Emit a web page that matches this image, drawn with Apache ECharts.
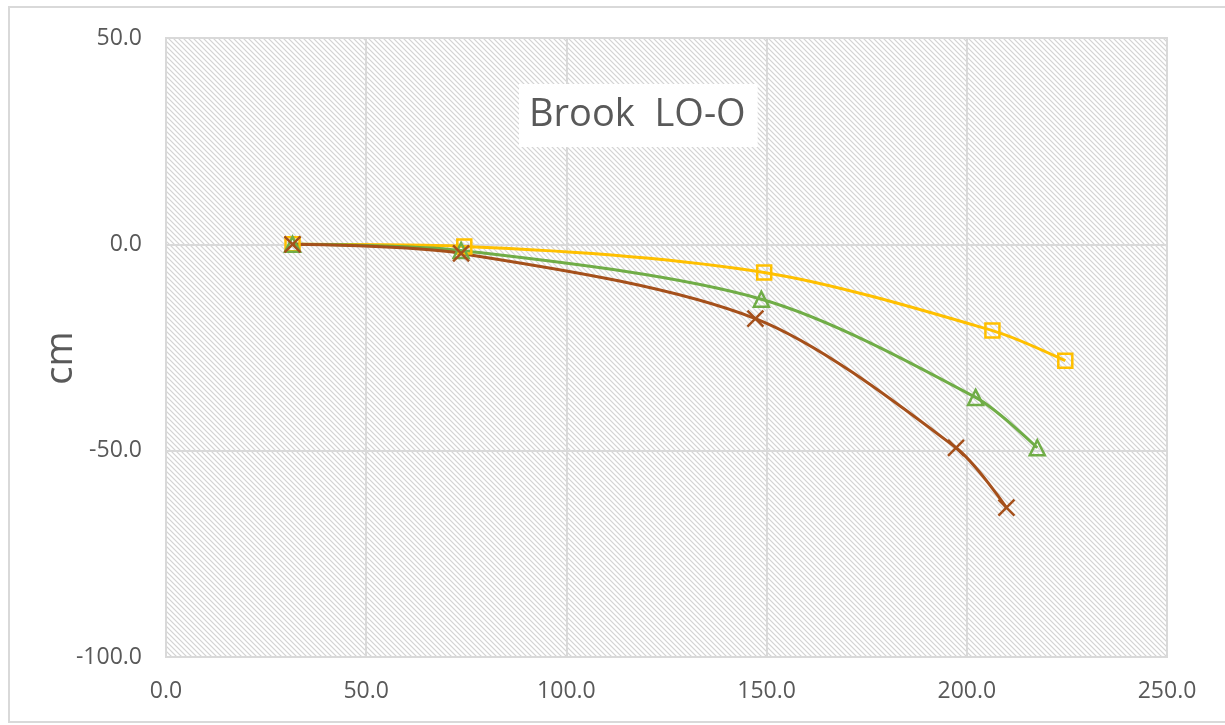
<!DOCTYPE html>
<html>
<head>
<meta charset="utf-8">
<script src="https://cdn.jsdelivr.net/npm/echarts@6/dist/echarts.min.js"></script>
<style>
html,body{margin:0;padding:0;background:#fff;}
#chart{width:1225px;height:725px;}
</style>
</head>
<body>
<div id="chart"></div>
<script>
// Data (x, cm)
const yellowX = [31.6, 74.5, 149.4, 206.4, 224.6];
const yellowY = [0, -0.5, -6.8, -20.9, -28.2];
const greenX = [31.6, 73.7, 148.7, 202.2, 217.6];
const greenY = [0, -1.5, -13.3, -37.1, -49.3];
const brownX = [31.6, 73.7, 147.2, 197.3, 209.9];
const brownY = [0, -2.2, -18.0, -49.3, -63.8];
const titleText = 'Brook  LO-O';
const yAxisName = 'cm';

function pairs(xs, ys) { return xs.map((x, i) => [x, ys[i]]); }

// diagonal hatch tile
function hatch() {
  const n = 5;
  const c = document.createElement('canvas');
  c.width = n; c.height = n;
  const ctx = c.getContext('2d');
  const img = ctx.createImageData(n, n);
  for (let y = 0; y < n; y++) {
    for (let x = 0; x < n; x++) {
      const d = ((x - y) % n + n) % n;
      let v = 255;
      if (d === 0) v = 212;
      else if (d === 1 || d === n - 1) v = 240;
      const k = (y * n + x) * 4;
      img.data[k] = v; img.data[k + 1] = v; img.data[k + 2] = v; img.data[k + 3] = 255;
    }
  }
  ctx.putImageData(img, 0, 0);
  return c;
}

const xPath = 'path://M0,0 L10,10 M10,0 L0,10';
const textColor = '#595959';
const font = '"Open Sans", "DejaVu Sans", sans-serif';

const chart = echarts.init(document.getElementById('chart'), null, { renderer: 'canvas' });

function lineSeries(name, data, color, symbol, size) {
  return {
    name, type: 'line', data, smooth: 0.3,
    lineStyle: { color, width: 3 },
    symbol, symbolSize: size,
    itemStyle: { color: 'rgba(0,0,0,0)', borderColor: color, borderWidth: 2.5 },
    emphasis: { disabled: true },
    z: 3
  };
}

chart.setOption({
  animation: false,
  backgroundColor: '#fff',
  title: {
    text: titleText,
    left: 519, top: 84,
    backgroundColor: '#ffffff',
    padding: [12, 12, 13, 10],
    textStyle: { fontFamily: font, fontSize: 38, fontWeight: 'normal', color: textColor }
  },
  grid: {
    left: 166, right: 58, top: 38, bottom: 68,
    show: true,
    backgroundColor: { image: hatch(), repeat: 'repeat' },
    borderColor: '#d9d9d9', borderWidth: 2
  },
  xAxis: {
    type: 'value', min: 0, max: 250, interval: 50,
    axisLine: { show: true, lineStyle: { color: '#d9d9d9', width: 2 } },
    axisTick: { show: false },
    splitLine: { show: true, lineStyle: { color: '#d9d9d9', width: 2 } },
    axisLabel: { formatter: v => v.toFixed(1), color: textColor, fontSize: 23, fontFamily: font, margin: 23 }
  },
  yAxis: {
    type: 'value', min: -100, max: 50, interval: 50,
    axisLine: { show: false },
    axisTick: { show: false },
    splitLine: { show: true, lineStyle: { color: '#d9d9d9', width: 2 } },
    axisLabel: { formatter: v => v.toFixed(1), color: textColor, fontSize: 23, fontFamily: font, margin: 24 }
  },
  graphic: [{
    type: 'rect', shape: { x: 9, y: 7, width: 1230, height: 715 },
    style: { fill: 'none', stroke: '#d9d9d9', lineWidth: 2 }, silent: true, z: -1
  }, {
    type: 'text', x: 61, y: 358, rotation: Math.PI / 2,
    style: { text: yAxisName, fill: textColor, fontSize: 38, fontFamily: font, align: 'center', verticalAlign: 'middle' },
    silent: true
  }],
  series: [
    lineSeries('Yellow', pairs(yellowX, yellowY), '#FFC000', 'rect', 14),
    lineSeries('Green', pairs(greenX, greenY), '#70AD47', 'triangle', 15),
    lineSeries('Brown', pairs(brownX, brownY), '#A5501B', xPath, 16)
  ]
});
</script>
</body>
</html>
